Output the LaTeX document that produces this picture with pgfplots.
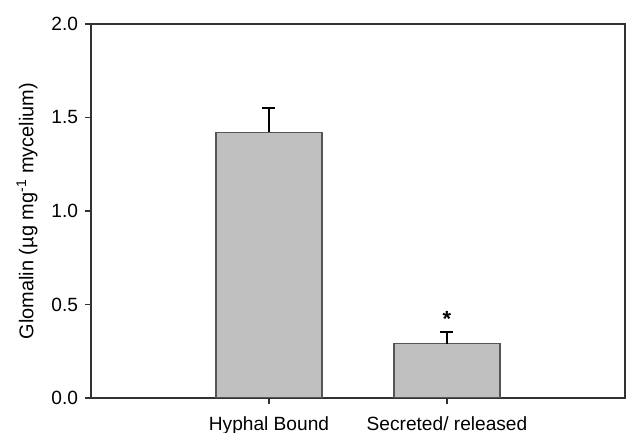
\documentclass[border=0pt]{standalone}
\usepackage{fontspec}
\setmainfont{Liberation Sans}
\usepackage{pgfplots}
\pgfplotsset{compat=1.18}
\usetikzlibrary{calc}
\definecolor{barfill}{RGB}{192,192,192}
\definecolor{baredge}{RGB}{85,85,85}
\definecolor{axcol}{RGB}{50,50,50}
\begin{document}
\begin{tikzpicture}
\begin{axis}[
  scale only axis,
  width=267bp, height=187bp,
  xmin=0, xmax=3, ymin=0, ymax=2,
  font=\fontsize{9.6}{11.5}\selectfont,
  /pgf/number format/assume math mode=true,
  axis line style={draw=axcol, line width=0.9bp},
  xtick={1,2},
  xticklabels={Hyphal Bound, Secreted/ released},
  ytick={0,0.5,1,1.5,2},
  yticklabel style={/pgf/number format/.cd, fixed, fixed zerofill, precision=1},
  xtick pos=bottom, ytick pos=left,
  tick align=outside,
  major tick length=3bp,
  tick style={draw=axcol, line width=0.8bp},
  xticklabel style={yshift=-3bp},
  ylabel={Glomalin (µg mg\textsuperscript{-1} mycelium)},
  ylabel style={at={(axis description cs:-0.12,0.5)}, anchor=center, font=\fontsize{10}{12}\selectfont},
]
\addplot[ybar, bar width=53bp, fill=barfill, draw=baredge, line width=0.6bp,
  error bars/.cd, y dir=plus, y explicit,
  error bar style={draw=black, line width=0.8bp},
  error mark options={rotate=90, mark size=3.25bp, line width=0.8bp}]
  coordinates {
    (1,1.42) +- (0,0.13)
    (2,0.29) +- (0,0.063)
  };
\node[font=\fontsize{11}{12}\selectfont\bfseries] at (axis cs:2,0.425) {*};
\end{axis}
\pgfresetboundingbox
\path[use as bounding box] ($(current axis.south west)+(-45.5bp,-17.5bp)$) rectangle ($(current axis.north east)+(1bp,12bp)$);
\end{tikzpicture}
\end{document}
